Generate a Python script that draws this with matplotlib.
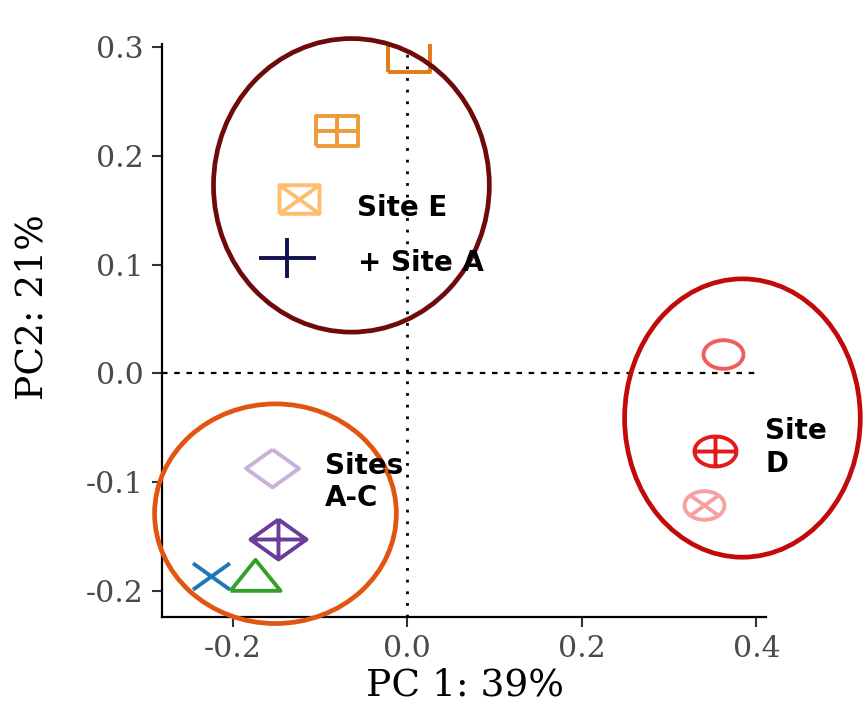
import numpy as np
import matplotlib
matplotlib.use("Agg")
import matplotlib.pyplot as plt
from matplotlib.path import Path
from matplotlib.patches import Ellipse

# PCA scores
samples = ["E1", "E2", "E3", "A1", "B1", "B2", "A2", "C1", "D1", "D2", "D3"]
pc1 = [0.002, -0.081, -0.124, -0.138, -0.155, -0.148, -0.225, -0.174, 0.362, 0.352, 0.340]
pc2 = [0.291, 0.223, 0.160, 0.106, -0.087, -0.152, -0.186, -0.190, 0.018, -0.071, -0.121]

# group annotations: centre (pc1, pc2), width, height
group_cx = [-0.064, -0.151, 0.384]
group_cy = [0.173, -0.129, -0.041]
group_w = [0.316, 0.277, 0.270]
group_h = [0.270, 0.202, 0.256]

x_ticks = [-0.2, 0.0, 0.2, 0.4]
y_ticks = [-0.2, -0.1, 0.0, 0.1, 0.2, 0.3]

# styles
shapes = ["sq", "sqplus", "sqx", "plus", "dia", "diaplus", "x", "tri", "circ", "circplus", "circx"]
colors = ["#DF7A18", "#EE9A38", "#FDBF6F", "#12124E", "#CAB2D6", "#6A3D9A",
          "#1F78B4", "#33A02C", "#EF5E5E", "#E31A1C", "#F8A0A0"]
widths_px = [42, 42, 40, 57, 53, 56, 37, 50, 40, 42, 40]
ell_colors = ["#6E0A0A", "#E2540F", "#C30A0A"]

SX = 1.4  # the original is stretched sideways


def make_marker(kind):
    sq = [(-1, -1), (1, -1), (1, 1), (-1, 1), (-1, -1)]
    dia = [(0, 1), (1, 0), (0, -1), (-1, 0), (0, 1)]
    t = np.linspace(0, 2 * np.pi, 60)
    circ = list(zip(np.cos(t), np.sin(t)))
    hv = [[(-1, 0), (1, 0)], [(0, -1), (0, 1)]]
    d = 0.707
    diag = [[(-d, -d), (d, d)], [(-d, d), (d, -d)]]
    parts = {
        "sq": [sq],
        "sqplus": [sq] + hv,
        "sqx": [sq, [(-1, -1), (1, 1)], [(-1, 1), (1, -1)]],
        "plus": hv,
        "dia": [dia],
        "diaplus": [dia] + hv,
        "x": [[(-1, -1), (1, 1)], [(-1, 1), (1, -1)]],
        "tri": [[(-0.866, -0.5), (0.866, -0.5), (0, 1), (-0.866, -0.5)]],
        "circ": [circ],
        "circplus": [circ] + hv,
        "circx": [circ] + diag,
    }[kind]
    paths = []
    for p in parts:
        v = np.array(p, dtype=float)
        v[:, 0] *= SX
        paths.append(Path(v))
    return Path.make_compound_path(*paths)


fig = plt.figure(figsize=(8.64, 7.04), dpi=100)
ax = fig.add_axes([162 / 864, 1 - 617 / 704, (766 - 162) / 864, (617 - 44) / 704])

ax.axhline(0, xmax=0.99, color="black", lw=1.6, linestyle=(0, (2.5, 3)), zorder=1)
ax.axvline(0, ymax=0.99, color="black", lw=2.0, linestyle=(0, (1, 3.2)), zorder=1)

for i in range(len(samples)):
    ms = widths_px[i] * 72 / 100
    ax.plot(pc1[i], pc2[i], linestyle="none", marker=make_marker(shapes[i]),
            ms=ms, mfc="none", mec=colors[i], mew=2.8, zorder=3)

for i in range(len(group_cx)):
    e = Ellipse((group_cx[i], group_cy[i]), group_w[i], group_h[i], fill=False,
                edgecolor=ell_colors[i], lw=3.4, clip_on=False, zorder=4)
    ax.add_patch(e)

txt = dict(fontsize=20, fontweight="bold", color="black", family="DejaVu Sans",
           ha="left", va="center", clip_on=False, zorder=5)
ax.text(-0.058, 0.152, "Site E", **txt)
ax.text(-0.057, 0.102, "+ Site A", **txt)
ax.text(-0.094, -0.100, "Sites\nA-C", linespacing=1.2, **txt)
ax.text(0.410, -0.068, "Site\nD", linespacing=1.2, **txt)

ax.set_xlim(-0.281, 0.411)
ax.set_ylim(-0.224, 0.303)
ax.set_xticks(x_ticks)
ax.set_yticks(y_ticks)
ax.set_xticklabels([f"{v:.1f}" for v in x_ticks])
ax.set_yticklabels([f"{v:.1f}" for v in y_ticks])

for s in ["top", "right"]:
    ax.spines[s].set_visible(False)
for s in ["left", "bottom"]:
    ax.spines[s].set_linewidth(1.6)
    ax.spines[s].set_color("black")
ax.tick_params(length=7, width=1.5, color="#333333", labelsize=21.5,
               labelcolor="#4A4A4A", pad=6)
for lab in ax.get_xticklabels() + ax.get_yticklabels():
    lab.set_family("DejaVu Serif")

fig.text(465 / 864, 1 - 685 / 704, "PC 1: 39%", ha="center", va="center",
         fontsize=27, family="DejaVu Serif")
fig.text(33 / 864, 1 - 307 / 704, "PC2: 21%", ha="center", va="center",
         rotation=90, fontsize=27, family="DejaVu Serif")

fig.savefig("out.png", dpi=100)
